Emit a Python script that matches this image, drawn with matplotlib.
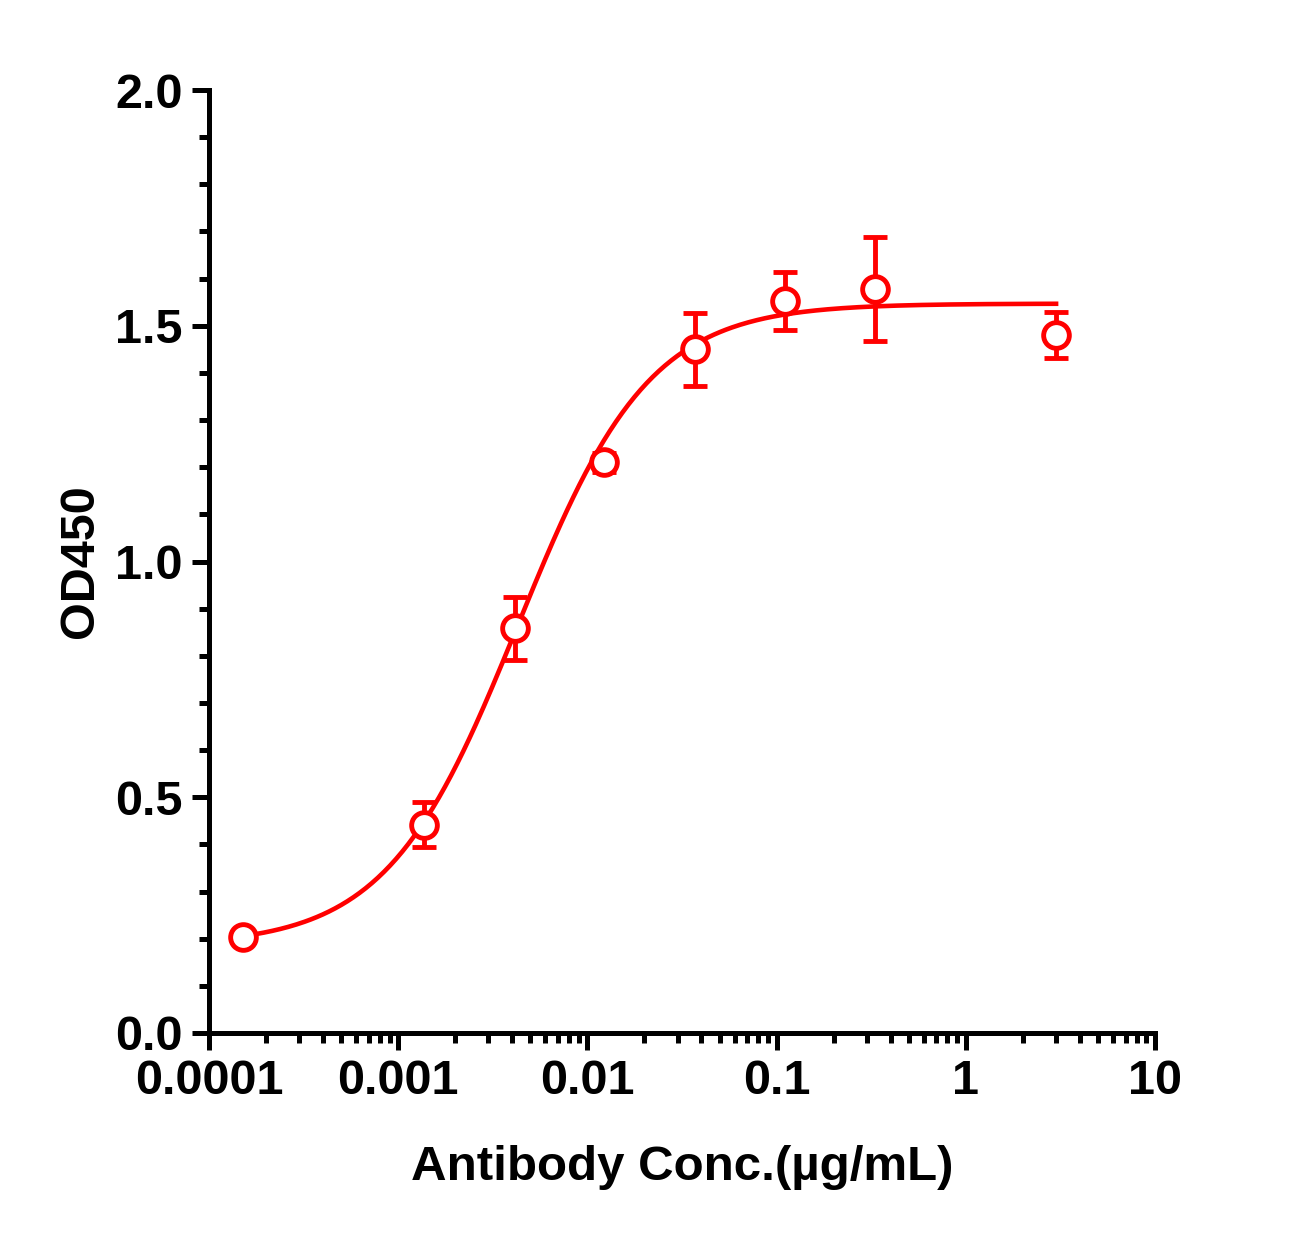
import matplotlib
matplotlib.use('Agg')
import matplotlib.pyplot as plt
import numpy as np
from matplotlib.ticker import LogLocator, FixedLocator, FuncFormatter, MultipleLocator

# measured points (antibody conc in ug/mL, OD450 mean, SD)
conc = [0.000152, 0.00137, 0.00412, 0.0123, 0.037, 0.111, 0.333, 3.0]
od450 = [0.204, 0.442, 0.858, 1.210, 1.450, 1.553, 1.578, 1.481]
sd = [0.010, 0.047, 0.067, 0.020, 0.078, 0.062, 0.110, 0.049]

# 4PL fit
fit_bottom = 0.185
fit_top = 1.547
fit_ec50 = 0.0043
fit_hill = 1.25

x_ticks = [0.0001, 0.001, 0.01, 0.1, 1, 10]
x_ticklabels = ['0.0001', '0.001', '0.01', '0.1', '1', '10']
y_ticks = [0.0, 0.5, 1.0, 1.5, 2.0]

RED = '#ff0000'
plt.rcParams['font.family'] = ['Liberation Sans', 'DejaVu Sans']
plt.rcParams['font.weight'] = 'bold'

fig = plt.figure(figsize=(13.08, 12.36), dpi=100)
ax = fig.add_axes([209 / 1308, 1 - 1033 / 1236, (1155 - 209) / 1308, (1033 - 90) / 1236])

xs = np.logspace(np.log10(conc[0]), np.log10(conc[-1]), 400)
ys = fit_bottom + (fit_top - fit_bottom) / (1 + (fit_ec50 / xs) ** fit_hill)
ax.plot(xs, ys, color=RED, lw=3.3, zorder=2)

ax.errorbar(conc, od450, yerr=sd, fmt='o', ms=18.5, mfc='white', mec=RED, mew=3.5,
            ecolor=RED, elinewidth=3.5, capsize=8.5, capthick=3.5, zorder=3)

ax.set_xscale('log')
ax.set_xlim(1e-4, 10)
ax.set_ylim(0, 2.0)

ax.xaxis.set_major_locator(FixedLocator(x_ticks))
ax.xaxis.set_major_formatter(FuncFormatter(lambda v, p: x_ticklabels[x_ticks.index(v)] if v in x_ticks else ''))
ax.xaxis.set_minor_locator(LogLocator(base=10, subs=np.arange(2, 10)))
ax.xaxis.set_minor_formatter(FuncFormatter(lambda v, p: ''))
ax.yaxis.set_major_locator(FixedLocator(y_ticks))
ax.yaxis.set_major_formatter(FuncFormatter(lambda v, p: '%.1f' % v))
ax.yaxis.set_minor_locator(MultipleLocator(0.1))

for s in ['top', 'right']:
    ax.spines[s].set_visible(False)
for s in ['left', 'bottom']:
    ax.spines[s].set_linewidth(3.6)

ax.tick_params(which='major', direction='out', length=12, width=3.6, labelsize=35, pad=7)
ax.tick_params(which='minor', direction='out', length=7, width=3.6)

ax.set_xlabel('Antibody Conc.(µg/mL)', fontsize=35.5, fontweight='bold', labelpad=29)
ax.set_ylabel('OD450', fontsize=35, fontweight='bold', labelpad=9)

plt.savefig('out.png', dpi=100)
